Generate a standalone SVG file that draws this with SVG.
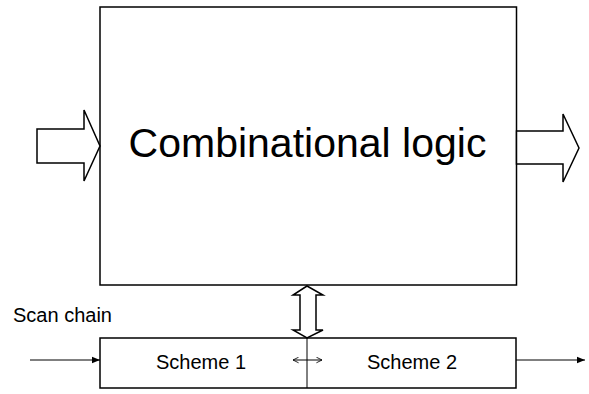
<svg xmlns="http://www.w3.org/2000/svg" width="589" height="394" viewBox="0 0 589 394">
<style>
.ln{fill:none;stroke:#000;stroke-width:1.5}
.sh{fill:#fff;stroke:#000;stroke-width:1.5;stroke-linejoin:miter}
.th{fill:none;stroke:#000;stroke-width:1}
text{font-family:"Liberation Sans",Arial,sans-serif;fill:#000}
</style>
<defs>
<marker id="fa" viewBox="0 0 10 10" refX="10" refY="5" markerWidth="10" markerHeight="8" markerUnits="userSpaceOnUse" orient="auto">
<path d="M0,1 L10,5 L0,9 Z" fill="#000"/>
</marker>
<marker id="oa" viewBox="0 0 10 10" refX="9" refY="5" markerWidth="7" markerHeight="7" markerUnits="userSpaceOnUse" orient="auto-start-reverse">
<path d="M1,1 L9,5 L1,9" fill="none" stroke="#000" stroke-width="1.2"/>
</marker>
</defs>
<rect width="589" height="394" fill="#fff"/>
<g id="logic">
<rect class="ln" x="100" y="7" width="416.5" height="278"/>
<text x="307.5" y="157" font-size="41" text-anchor="middle">Combinational logic</text>
</g>
<g id="scan-chain">
<rect class="ln" x="100" y="338" width="416" height="50"/>
<line class="th" x1="307" y1="338" x2="307" y2="388"/>
<text x="201" y="369" font-size="20" text-anchor="middle">Scheme 1</text>
<text x="412" y="369" font-size="20" text-anchor="middle">Scheme 2</text>
</g>
<g id="label">
<text x="13" y="322" font-size="20">Scan chain</text>
</g>
<g id="connectors">
<polygon class="sh" points="37,129 84,129 84,110 100,146 84,181 84,163 37,163"/>
<polygon class="sh" points="516.5,131 563,131 563,114 579,148 563,182 563,164 516.5,164"/>
<polygon class="sh" points="307,286 323,295 316,295 316,330 323,330 307,338 293,330 300,330 300,295 293,295"/>
<line class="th" x1="293" y1="360" x2="322" y2="360" marker-start="url(#oa)" marker-end="url(#oa)"/>
<line class="th" x1="30" y1="360" x2="100" y2="360" marker-end="url(#fa)"/>
<line class="th" x1="516" y1="360" x2="585" y2="360" marker-end="url(#fa)"/>
</g>
</svg>
